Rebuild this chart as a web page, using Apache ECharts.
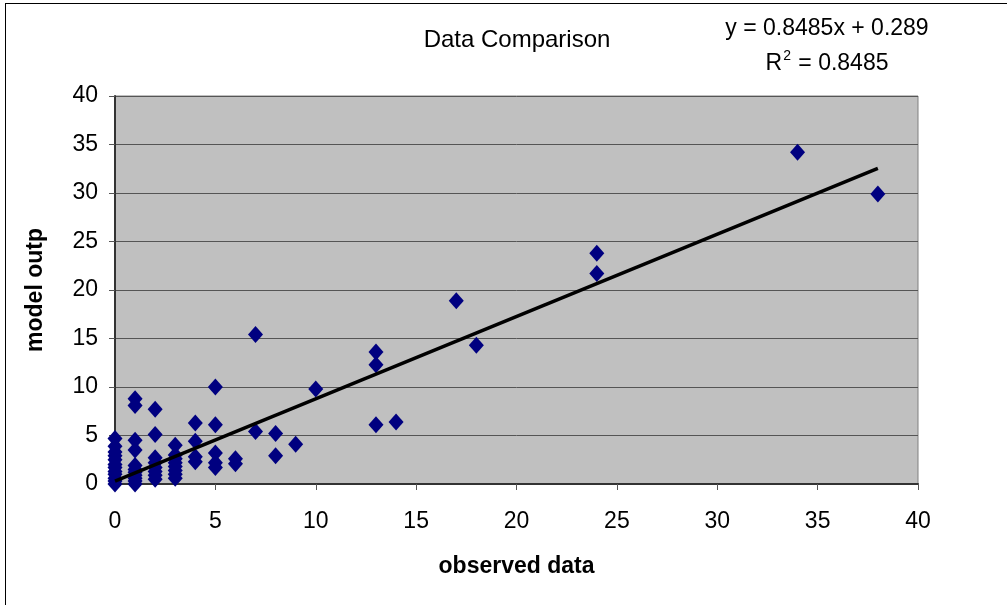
<!DOCTYPE html>
<html>
<head>
<meta charset="utf-8">
<script src="https://cdn.jsdelivr.net/npm/echarts@6/dist/echarts.min.js"></script>
<style>
    html, body {margin: 0; padding: 0; background: #fff;}
    #chart {width: 1007px; height: 605px;}
</style>
</head>
<body>
<div id="chart"></div>
<script>
const observed = [
    0, 0, 0, 0, 0, 0, 0, 0, 0, 0, 0, 0,
    1, 1, 1, 1, 1, 1, 1, 1, 1, 1, 1,
    2, 2, 2, 2, 2, 2, 2, 2,
    3, 3, 3, 3, 3, 3, 3, 3,
    4, 4, 4, 4,
    5, 5, 5, 5, 5,
    6, 6,
    7, 7,
    8, 8,
    9, 10,
    13, 13, 13, 14, 17, 18, 24, 24, 34, 38
]
const model = [
    0, 0.3, 0.6, 1.0, 1.3, 1.7, 2.0, 2.5, 2.9, 3.3, 3.9, 4.7,
    0, 0.3, 0.6, 0.9, 1.2, 1.5, 1.9, 3.5, 4.5, 8.1, 8.8,
    0.5, 0.9, 1.3, 1.7, 2.2, 2.7, 5.1, 7.7,
    0.6, 1.0, 1.4, 1.8, 2.2, 2.6, 3.0, 4.0,
    2.3, 2.8, 4.4, 6.3,
    1.7, 2.2, 3.2, 6.1, 10.0,
    2.1, 2.6,
    5.4, 15.4,
    2.9, 5.2,
    4.1, 9.8,
    6.1, 12.3, 13.6, 6.4, 18.9, 14.3, 21.7, 23.8, 34.2, 29.9
]
const xTicks = [0, 5, 10, 15, 20, 25, 30, 35, 40]
const slope = 0.8485
const intercept = 0.289
const rSquared = 0.8485

const points = observed.map((x, i) => [x, model[i]])
const xMin = Math.min(...observed)
const xMax = Math.max(...observed)
const trend = [[xMin, slope * xMin + intercept], [xMax, slope * xMax + intercept]]

const chartObj = echarts.init(document.getElementById('chart'), null, {renderer: 'canvas'})
const font = 'Arial, "Liberation Sans", sans-serif'

const option = {
    backgroundColor: '#fff',
    animation: false,
    textStyle: {fontFamily: font},
    title: {
        text: 'Data Comparison',
        left: 512, top: 23,
        textAlign: 'center',
        textStyle: {fontSize: 24, fontWeight: 'normal', color: '#000', fontFamily: font}
    },
    graphic: [
        // chart border (only left and top edges visible)
        {type: 'line', shape: {x1: 5.5, y1: 3, x2: 5.5, y2: 605}, style: {stroke: '#000', lineWidth: 1}},
        {type: 'line', shape: {x1: 5, y1: 3.5, x2: 1007, y2: 3.5}, style: {stroke: '#000', lineWidth: 1}},
        {
            type: 'text', x: 827, y: 29,
            style: {
                text: 'y = 0.8485x + 0.289', fontSize: 23, fill: '#000', fontFamily: font,
                align: 'center', verticalAlign: 'middle'
            }
        },
        {
            type: 'text', x: 827, y: 62,
            style: {
                text: '{b|R}{s|2}{b| = ' + rSquared + '}',
                fill: '#000', fontFamily: font,
                align: 'center', verticalAlign: 'middle',
                rich: {
                    b: {fontSize: 23, fontFamily: font, verticalAlign: 'bottom'},
                    s: {fontSize: 14, fontFamily: font, verticalAlign: 'top', padding: [0, 1, 12, 1]}
                }
            }
        }
    ],
    grid: {
        left: 115, top: 96, width: 803, height: 388,
        show: true,
        backgroundColor: '#c0c0c0',
        borderColor: '#808080',
        borderWidth: 1
    },
    xAxis: {
        type: 'value',
        min: 0, max: 40, interval: 5,
        name: 'observed data',
        nameLocation: 'middle',
        nameGap: 71,
        nameTextStyle: {fontSize: 23, fontWeight: 'bold', color: '#000', fontFamily: font},
        axisLine: {show: true, lineStyle: {color: '#333', width: 2}},
        axisTick: {show: true, length: 6, lineStyle: {color: '#555'}},
        axisLabel: {
            fontSize: 23, color: '#000', margin: 26, fontFamily: font,
            formatter: v => xTicks.includes(v) ? String(v) : ''
        },
        splitLine: {show: false}
    },
    yAxis: {
        type: 'value',
        min: 0, max: 40, interval: 5,
        name: 'model outp',
        nameLocation: 'middle',
        nameGap: 68,
        nameRotate: 90,
        nameTextStyle: {fontSize: 23, fontWeight: 'bold', color: '#000', fontFamily: font},
        axisLine: {show: true, lineStyle: {color: '#333', width: 2}},
        axisTick: {show: true, length: 6, lineStyle: {color: '#555'}},
        axisLabel: {fontSize: 23, color: '#000', margin: 17, fontFamily: font},
        splitLine: {show: true, lineStyle: {color: '#555', width: 1}}
    },
    series: [
        {
            name: 'data',
            type: 'scatter',
            symbol: 'diamond',
            symbolSize: [15, 17],
            itemStyle: {color: '#000080', opacity: 1},
            data: points,
            z: 2
        },
        {
            name: 'trend',
            type: 'line',
            symbol: 'none',
            lineStyle: {color: '#000', width: 3.5},
            data: trend,
            z: 3
        }
    ]
}

chartObj.setOption(option)
</script>
</body>
</html>
